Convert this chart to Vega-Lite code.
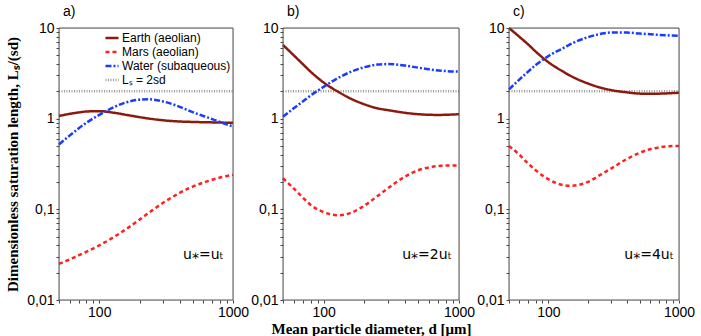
{
  "$schema": "https://vega.github.io/schema/vega-lite/v6.json",
  "padding": {"left": 5, "top": 4, "right": 5, "bottom": 3},
  "background": "white",
  "config": {
    "font": "Liberation Sans",
    "axis": {"domain": false, "grid": false, "labelFont": "Liberation Sans", "labelFontSize": 14, "labelColor": "#000", "tickColor": "#444", "tickWidth": 1, "tickSize": 3, "labelPadding": 2, "titleFont": "Liberation Serif", "titleFontSize": 15, "titleFontWeight": "bold", "titleColor": "#000", "labelOverlap": false, "labelFlush": false},
    "concat": {"spacing": 50}
  },
  "datasets": {
    "curves": [
      {"p":"a","s":"R","d":50,"L":2},{"p":"a","s":"R","d":1000,"L":2},
      {"p":"a","s":"E","d":50,"L":1.07},{"p":"a","s":"E","d":60,"L":1.13},{"p":"a","s":"E","d":70,"L":1.17},{"p":"a","s":"E","d":80,"L":1.2},{"p":"a","s":"E","d":100,"L":1.21},{"p":"a","s":"E","d":130,"L":1.16},{"p":"a","s":"E","d":160,"L":1.1},{"p":"a","s":"E","d":200,"L":1.04},{"p":"a","s":"E","d":250,"L":0.99},{"p":"a","s":"E","d":300,"L":0.96},{"p":"a","s":"E","d":400,"L":0.93},{"p":"a","s":"E","d":500,"L":0.92},{"p":"a","s":"E","d":700,"L":0.91},{"p":"a","s":"E","d":1000,"L":0.9},
      {"p":"a","s":"M","d":50,"L":0.025},{"p":"a","s":"M","d":60,"L":0.028},{"p":"a","s":"M","d":70,"L":0.031},{"p":"a","s":"M","d":80,"L":0.034},{"p":"a","s":"M","d":100,"L":0.04},{"p":"a","s":"M","d":130,"L":0.05},{"p":"a","s":"M","d":160,"L":0.061},{"p":"a","s":"M","d":200,"L":0.077},{"p":"a","s":"M","d":250,"L":0.098},{"p":"a","s":"M","d":300,"L":0.118},{"p":"a","s":"M","d":400,"L":0.152},{"p":"a","s":"M","d":500,"L":0.178},{"p":"a","s":"M","d":600,"L":0.197},{"p":"a","s":"M","d":700,"L":0.212},{"p":"a","s":"M","d":800,"L":0.224},{"p":"a","s":"M","d":1000,"L":0.24},
      {"p":"a","s":"W","d":50,"L":0.52},{"p":"a","s":"W","d":60,"L":0.65},{"p":"a","s":"W","d":70,"L":0.78},{"p":"a","s":"W","d":80,"L":0.9},{"p":"a","s":"W","d":100,"L":1.1},{"p":"a","s":"W","d":130,"L":1.35},{"p":"a","s":"W","d":160,"L":1.52},{"p":"a","s":"W","d":200,"L":1.62},{"p":"a","s":"W","d":230,"L":1.64},{"p":"a","s":"W","d":300,"L":1.55},{"p":"a","s":"W","d":400,"L":1.35},{"p":"a","s":"W","d":500,"L":1.18},{"p":"a","s":"W","d":600,"L":1.07},{"p":"a","s":"W","d":700,"L":0.99},{"p":"a","s":"W","d":800,"L":0.92},{"p":"a","s":"W","d":1000,"L":0.82},
      {"p":"b","s":"R","d":50,"L":2},{"p":"b","s":"R","d":1000,"L":2},
      {"p":"b","s":"E","d":50,"L":6.5},{"p":"b","s":"E","d":60,"L":5.0},{"p":"b","s":"E","d":70,"L":4.0},{"p":"b","s":"E","d":80,"L":3.3},{"p":"b","s":"E","d":100,"L":2.5},{"p":"b","s":"E","d":130,"L":1.95},{"p":"b","s":"E","d":160,"L":1.65},{"p":"b","s":"E","d":200,"L":1.44},{"p":"b","s":"E","d":250,"L":1.3},{"p":"b","s":"E","d":300,"L":1.24},{"p":"b","s":"E","d":400,"L":1.16},{"p":"b","s":"E","d":500,"L":1.12},{"p":"b","s":"E","d":700,"L":1.1},{"p":"b","s":"E","d":1000,"L":1.12},
      {"p":"b","s":"M","d":50,"L":0.22},{"p":"b","s":"M","d":60,"L":0.17},{"p":"b","s":"M","d":70,"L":0.135},{"p":"b","s":"M","d":80,"L":0.112},{"p":"b","s":"M","d":100,"L":0.093},{"p":"b","s":"M","d":130,"L":0.086},{"p":"b","s":"M","d":160,"L":0.092},{"p":"b","s":"M","d":200,"L":0.11},{"p":"b","s":"M","d":250,"L":0.14},{"p":"b","s":"M","d":300,"L":0.172},{"p":"b","s":"M","d":400,"L":0.23},{"p":"b","s":"M","d":500,"L":0.27},{"p":"b","s":"M","d":600,"L":0.29},{"p":"b","s":"M","d":700,"L":0.3},{"p":"b","s":"M","d":800,"L":0.305},{"p":"b","s":"M","d":1000,"L":0.305},
      {"p":"b","s":"W","d":50,"L":1.05},{"p":"b","s":"W","d":60,"L":1.3},{"p":"b","s":"W","d":70,"L":1.55},{"p":"b","s":"W","d":80,"L":1.8},{"p":"b","s":"W","d":100,"L":2.25},{"p":"b","s":"W","d":130,"L":2.85},{"p":"b","s":"W","d":160,"L":3.3},{"p":"b","s":"W","d":200,"L":3.7},{"p":"b","s":"W","d":250,"L":3.95},{"p":"b","s":"W","d":300,"L":4.0},{"p":"b","s":"W","d":400,"L":3.85},{"p":"b","s":"W","d":500,"L":3.65},{"p":"b","s":"W","d":600,"L":3.5},{"p":"b","s":"W","d":800,"L":3.35},{"p":"b","s":"W","d":1000,"L":3.3},
      {"p":"c","s":"R","d":50,"L":2},{"p":"c","s":"R","d":1000,"L":2},
      {"p":"c","s":"E","d":50,"L":10},{"p":"c","s":"E","d":60,"L":8.0},{"p":"c","s":"E","d":70,"L":6.6},{"p":"c","s":"E","d":80,"L":5.5},{"p":"c","s":"E","d":100,"L":4.2},{"p":"c","s":"E","d":130,"L":3.3},{"p":"c","s":"E","d":160,"L":2.8},{"p":"c","s":"E","d":200,"L":2.45},{"p":"c","s":"E","d":250,"L":2.2},{"p":"c","s":"E","d":300,"L":2.07},{"p":"c","s":"E","d":400,"L":1.95},{"p":"c","s":"E","d":500,"L":1.89},{"p":"c","s":"E","d":600,"L":1.88},{"p":"c","s":"E","d":800,"L":1.9},{"p":"c","s":"E","d":1000,"L":1.93},
      {"p":"c","s":"M","d":50,"L":0.5},{"p":"c","s":"M","d":60,"L":0.4},{"p":"c","s":"M","d":70,"L":0.32},{"p":"c","s":"M","d":80,"L":0.27},{"p":"c","s":"M","d":100,"L":0.215},{"p":"c","s":"M","d":130,"L":0.185},{"p":"c","s":"M","d":150,"L":0.182},{"p":"c","s":"M","d":200,"L":0.2},{"p":"c","s":"M","d":250,"L":0.24},{"p":"c","s":"M","d":300,"L":0.28},{"p":"c","s":"M","d":400,"L":0.36},{"p":"c","s":"M","d":500,"L":0.42},{"p":"c","s":"M","d":600,"L":0.46},{"p":"c","s":"M","d":700,"L":0.48},{"p":"c","s":"M","d":800,"L":0.495},{"p":"c","s":"M","d":1000,"L":0.5},
      {"p":"c","s":"W","d":50,"L":2.1},{"p":"c","s":"W","d":60,"L":2.7},{"p":"c","s":"W","d":70,"L":3.3},{"p":"c","s":"W","d":80,"L":3.9},{"p":"c","s":"W","d":100,"L":4.9},{"p":"c","s":"W","d":130,"L":6.0},{"p":"c","s":"W","d":160,"L":7.0},{"p":"c","s":"W","d":200,"L":7.9},{"p":"c","s":"W","d":250,"L":8.6},{"p":"c","s":"W","d":300,"L":8.9},{"p":"c","s":"W","d":400,"L":8.9},{"p":"c","s":"W","d":500,"L":8.7},{"p":"c","s":"W","d":700,"L":8.4},{"p":"c","s":"W","d":1000,"L":8.2}
    ]
  },
  "bounds": "flush",
  "resolve": {"legend": {"color": "independent", "strokeDash": "independent", "strokeWidth": "independent"}},
  "hconcat": [
    {
      "width": 174, "height": 272,
      "title": {"text": "a)", "anchor": "start", "frame": "group", "dx": 4, "offset": 2, "fontSize": 14, "fontWeight": "normal", "font": "Liberation Sans"},
      "data": {"name": "curves"},
      "transform": [{"filter": "datum.p == 'a'"}],
      "layer": [
        {
          "mark": {"type": "line", "interpolate": "monotone"},
          "encoding": {
            "x": {"field": "d", "type": "quantitative", "scale": {"type": "log", "domain": [50, 1000], "nice": false},
              "axis": {"values": [50,60,70,80,90,100,200,300,400,500,600,700,800,900,1000], "labelExpr": "datum.value == 100 ? '100' : datum.value == 1000 ? '1000' : ''", "title": null}},
            "y": {"field": "L", "type": "quantitative", "scale": {"type": "log", "domain": [0.01, 10], "nice": false},
              "axis": {"values": [0.01,0.02,0.03,0.04,0.05,0.06,0.07,0.08,0.09,0.1,0.2,0.3,0.4,0.5,0.6,0.7,0.8,0.9,1,2,3,4,5,6,7,8,9,10], "labelExpr": "datum.value == 0.01 ? '0,01' : datum.value == 0.1 ? '0,1' : datum.value == 1 ? '1' : datum.value == 10 ? '10' : ''", "title": "Dimensionless saturation length, Lₛ/(sd)", "titlePadding": 6}},
            "color": {"field": "s", "type": "nominal", "scale": {"domain": ["E","M","W","R"], "range": ["#8b1a0e","#ff2020","#1a3cff","#999999"]},
              "legend": {"orient": "none", "legendX": 45, "legendY": 2, "title": null, "symbolType": "stroke", "symbolSize": 170, "symbolStrokeWidth": 2.5, "labelFontSize": 12, "labelFont": "Liberation Sans", "labelColor": "#000", "labelOffset": 2, "rowPadding": 0, "labelExpr": "datum.value == 'E' ? 'Earth (aeolian)' : datum.value == 'M' ? 'Mars (aeolian)' : datum.value == 'W' ? 'Water (subaqueous)' : 'Lₛ = 2sd'"}},
            "strokeDash": {"field": "s", "type": "nominal", "scale": {"domain": ["E","M","W","R"], "range": [[1,0],[4,3],[6,2,2,2],[1,1.5]]}, "legend": {"orient": "none", "legendX": 45, "legendY": 2, "title": null, "symbolType": "stroke", "symbolSize": 170, "symbolStrokeWidth": 2.5, "labelFontSize": 12, "labelFont": "Liberation Sans", "labelColor": "#000", "labelOffset": 2, "rowPadding": 0, "labelExpr": "datum.value == 'E' ? 'Earth (aeolian)' : datum.value == 'M' ? 'Mars (aeolian)' : datum.value == 'W' ? 'Water (subaqueous)' : 'Lₛ = 2sd'"}},
            "strokeWidth": {"field": "s", "type": "nominal", "scale": {"domain": ["E","M","W","R"], "range": [2.5,2.5,2,2.5]}, "legend": null}
          }
        },
        {
          "data": {"values": [{"t": "u⁎=uₜ"}]},
          "mark": {"type": "text", "fontSize": 14, "font": "DejaVu Sans", "align": "center", "baseline": "middle"},
          "encoding": {"x": {"datum": 600, "type": "quantitative"}, "y": {"datum": 0.031, "type": "quantitative"}, "text": {"field": "t"}}
        },
        {
          "data": {"values": [{"frame": 1}]},
          "mark": {"type": "rect", "fill": "transparent", "stroke": "#555", "strokeWidth": 1},
          "encoding": {"x": {"datum": 50, "type": "quantitative"}, "x2": {"datum": 1000}, "y": {"datum": 0.01, "type": "quantitative"}, "y2": {"datum": 10}}
        }
      ]
    },
    {
      "width": 176, "height": 272,
      "title": {"text": "b)", "anchor": "start", "frame": "group", "dx": 4, "offset": 2, "fontSize": 14, "fontWeight": "normal", "font": "Liberation Sans"},
      "data": {"name": "curves"},
      "transform": [{"filter": "datum.p == 'b'"}],
      "layer": [
        {
          "mark": {"type": "line", "interpolate": "monotone"},
          "encoding": {
            "x": {"field": "d", "type": "quantitative", "scale": {"type": "log", "domain": [50, 1000], "nice": false},
              "axis": {"values": [50,60,70,80,90,100,200,300,400,500,600,700,800,900,1000], "labelExpr": "datum.value == 100 ? '100' : datum.value == 1000 ? '1000' : ''", "title": "Mean particle diameter, d [μm]", "titlePadding": 2}},
            "y": {"field": "L", "type": "quantitative", "scale": {"type": "log", "domain": [0.01, 10], "nice": false},
              "axis": {"values": [0.01,0.02,0.03,0.04,0.05,0.06,0.07,0.08,0.09,0.1,0.2,0.3,0.4,0.5,0.6,0.7,0.8,0.9,1,2,3,4,5,6,7,8,9,10], "labelExpr": "datum.value == 0.01 ? '0,01' : datum.value == 0.1 ? '0,1' : datum.value == 1 ? '1' : datum.value == 10 ? '10' : ''", "title": null}},
            "color": {"field": "s", "type": "nominal", "scale": {"domain": ["E","M","W","R"], "range": ["#8b1a0e","#ff2020","#1a3cff","#999999"]}, "legend": null},
            "strokeDash": {"field": "s", "type": "nominal", "scale": {"domain": ["E","M","W","R"], "range": [[1,0],[4,3],[6,2,2,2],[1,1.5]]}, "legend": null},
            "strokeWidth": {"field": "s", "type": "nominal", "scale": {"domain": ["E","M","W","R"], "range": [2.5,2.5,2,2.5]}, "legend": null}
          }
        },
        {
          "data": {"values": [{"t": "u⁎=2uₜ"}]},
          "mark": {"type": "text", "fontSize": 14, "font": "DejaVu Sans", "align": "center", "baseline": "middle"},
          "encoding": {"x": {"datum": 580, "type": "quantitative"}, "y": {"datum": 0.031, "type": "quantitative"}, "text": {"field": "t"}}
        },
        {
          "data": {"values": [{"frame": 1}]},
          "mark": {"type": "rect", "fill": "transparent", "stroke": "#555", "strokeWidth": 1},
          "encoding": {"x": {"datum": 50, "type": "quantitative"}, "x2": {"datum": 1000}, "y": {"datum": 0.01, "type": "quantitative"}, "y2": {"datum": 10}}
        }
      ]
    },
    {
      "width": 170, "height": 272,
      "title": {"text": "c)", "anchor": "start", "frame": "group", "dx": 4, "offset": 2, "fontSize": 14, "fontWeight": "normal", "font": "Liberation Sans"},
      "data": {"name": "curves"},
      "transform": [{"filter": "datum.p == 'c'"}],
      "layer": [
        {
          "mark": {"type": "line", "interpolate": "monotone"},
          "encoding": {
            "x": {"field": "d", "type": "quantitative", "scale": {"type": "log", "domain": [50, 1000], "nice": false},
              "axis": {"values": [50,60,70,80,90,100,200,300,400,500,600,700,800,900,1000], "labelExpr": "datum.value == 100 ? '100' : datum.value == 1000 ? '1000' : ''", "title": null}},
            "y": {"field": "L", "type": "quantitative", "scale": {"type": "log", "domain": [0.01, 10], "nice": false},
              "axis": {"values": [0.01,0.02,0.03,0.04,0.05,0.06,0.07,0.08,0.09,0.1,0.2,0.3,0.4,0.5,0.6,0.7,0.8,0.9,1,2,3,4,5,6,7,8,9,10], "labelExpr": "datum.value == 0.01 ? '0,01' : datum.value == 0.1 ? '0,1' : datum.value == 1 ? '1' : datum.value == 10 ? '10' : ''", "title": null}},
            "color": {"field": "s", "type": "nominal", "scale": {"domain": ["E","M","W","R"], "range": ["#8b1a0e","#ff2020","#1a3cff","#999999"]}, "legend": null},
            "strokeDash": {"field": "s", "type": "nominal", "scale": {"domain": ["E","M","W","R"], "range": [[1,0],[4,3],[6,2,2,2],[1,1.5]]}, "legend": null},
            "strokeWidth": {"field": "s", "type": "nominal", "scale": {"domain": ["E","M","W","R"], "range": [2.5,2.5,2,2.5]}, "legend": null}
          }
        },
        {
          "data": {"values": [{"t": "u⁎=4uₜ"}]},
          "mark": {"type": "text", "fontSize": 14, "font": "DejaVu Sans", "align": "center", "baseline": "middle"},
          "encoding": {"x": {"datum": 590, "type": "quantitative"}, "y": {"datum": 0.031, "type": "quantitative"}, "text": {"field": "t"}}
        },
        {
          "data": {"values": [{"frame": 1}]},
          "mark": {"type": "rect", "fill": "transparent", "stroke": "#555", "strokeWidth": 1},
          "encoding": {"x": {"datum": 50, "type": "quantitative"}, "x2": {"datum": 1000}, "y": {"datum": 0.01, "type": "quantitative"}, "y2": {"datum": 10}}
        }
      ]
    }
  ]
}
